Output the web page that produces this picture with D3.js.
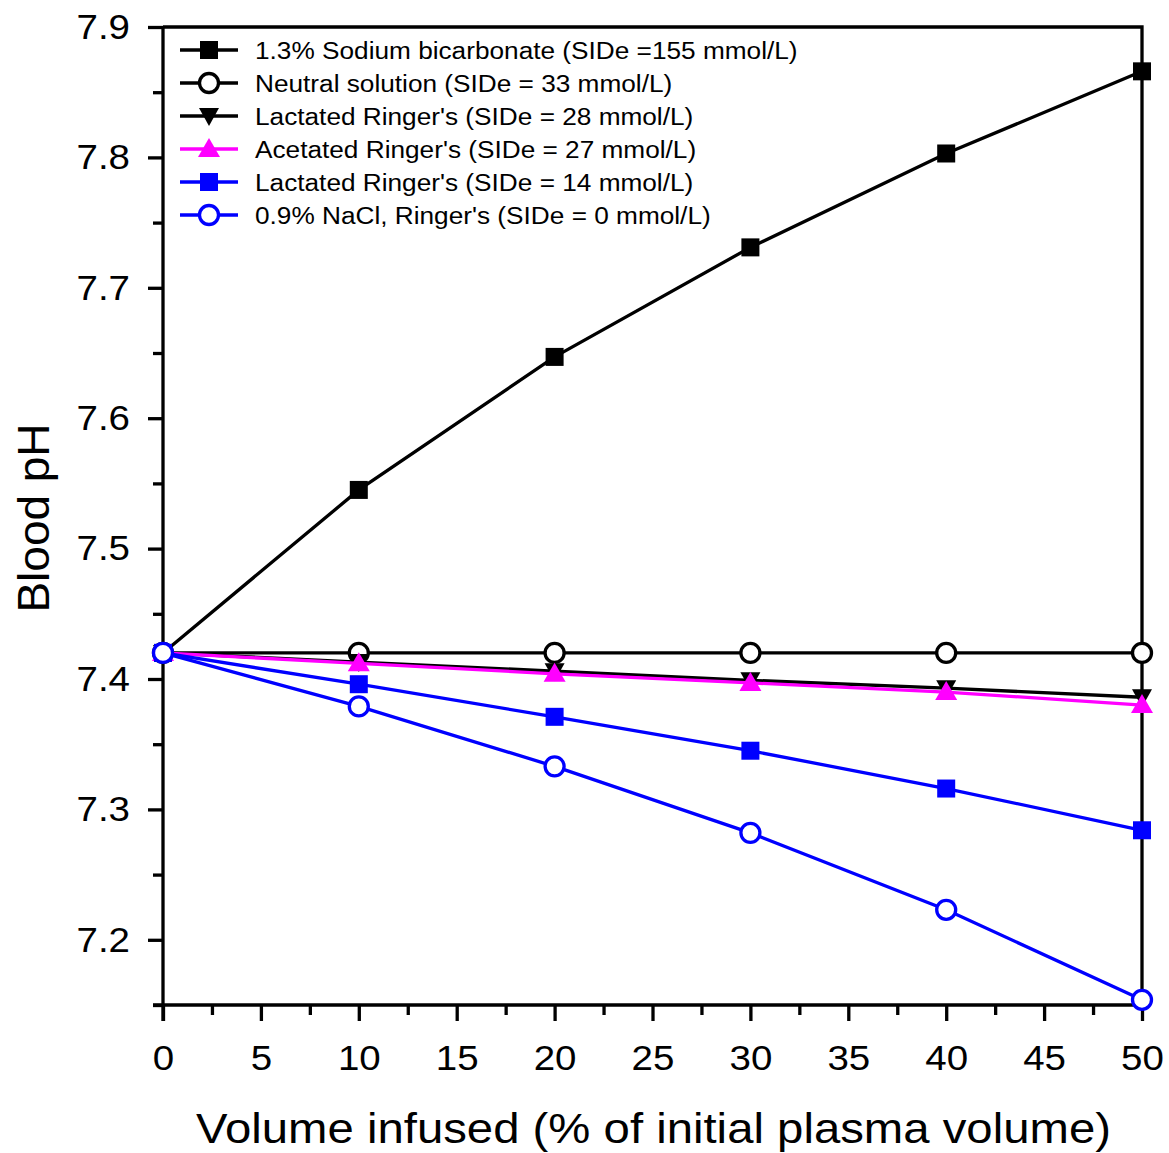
<!DOCTYPE html>
<html><head><meta charset="utf-8">
<script src="https://cdn.jsdelivr.net/npm/d3@7"></script>
<style>html,body{margin:0;padding:0;background:#fff;}svg{display:block;font-family:"Liberation Sans",Arial,sans-serif;}</style>
</head><body>
<svg id="chart" width="1169" height="1153"></svg>
<script>
const volumes = [0, 10, 20, 30, 40, 50];
const seriesNames = [
  "1.3% Sodium bicarbonate (SIDe =155 mmol/L)",
  "Neutral solution (SIDe = 33 mmol/L)",
  "Lactated Ringer's (SIDe = 28 mmol/L)",
  "Acetated Ringer's (SIDe = 27 mmol/L)",
  "Lactated Ringer's (SIDe = 14 mmol/L)",
  "0.9% NaCl, Ringer's (SIDe = 0 mmol/L)"
];
const bicarbonate155 = [7.42, 7.545, 7.647, 7.731, 7.803, 7.866];
const neutral33 = [7.42, 7.42, 7.42, 7.42, 7.42, 7.42];
const lactated28 = [7.42, 7.413, 7.406, 7.399, 7.393, 7.386];
const acetated27 = [7.42, 7.412, 7.404, 7.397, 7.390, 7.380];
const lactated14 = [7.42, 7.396, 7.371, 7.345, 7.316, 7.284];
const saline0 = [7.42, 7.379, 7.333, 7.282, 7.223, 7.154];
const xTicks = [0, 5, 10, 15, 20, 25, 30, 35, 40, 45, 50];
const yTicks = [7.2, 7.3, 7.4, 7.5, 7.6, 7.7, 7.8, 7.9];
const xLabel = "Volume infused (% of initial plasma volume)";
const yLabel = "Blood pH";

const seriesValues = [bicarbonate155, neutral33, lactated28, acetated27, lactated14, saline0];
const styles = [
  {color: "#000", marker: "square", fill: "#000"},
  {color: "#000", marker: "circle", fill: "#fff"},
  {color: "#000", marker: "tridown", fill: "#000"},
  {color: "#ff00ff", marker: "triup", fill: "#ff00ff"},
  {color: "#0000ff", marker: "square", fill: "#0000ff"},
  {color: "#0000ff", marker: "circle", fill: "#fff"}
];

const svg = d3.select("#chart");
const L = 163, R = 1142, T = 27, B = 1005;
const x = d3.scaleLinear().domain([0, 50]).range([L, R]);
const y = d3.scaleLinear().domain([7.15, 7.9]).range([B, T]);
const SW = 3.3;

function stretch(sel, f) {
  sel.each(function () {
    const w = this.getComputedTextLength();
    d3.select(this).attr("textLength", w * f).attr("lengthAdjust", "spacingAndGlyphs");
  });
}

// frame top & right
svg.append("path").attr("d", `M${L},${T}H${R}V${B}`).attr("fill", "none").attr("stroke", "#000").attr("stroke-width", SW);

// y axis
const yMinor = d3.range(7.15, 7.9, 0.1).map(v => +v.toFixed(2));
const yAx = svg.append("g").attr("transform", `translate(${L},0)`);
yAx.call(d3.axisLeft(y).tickValues(yTicks).tickSize(15).tickPadding(18).tickFormat(d3.format(".1f")));
yAx.append("g").call(d3.axisLeft(y).tickValues(yMinor).tickSize(10).tickFormat(""));
yAx.selectAll("path.domain").remove();
yAx.append("line").attr("x1", 0).attr("x2", 0).attr("y1", T).attr("y2", B + 16).attr("stroke", "#000").attr("stroke-width", SW);

// x axis
const xMinor = d3.range(2.5, 50, 5);
const xAx = svg.append("g").attr("transform", `translate(0,${B})`);
xAx.call(d3.axisBottom(x).tickValues(xTicks).tickSize(16).tickPadding(24));
xAx.append("g").call(d3.axisBottom(x).tickValues(xMinor).tickSize(10).tickFormat(""));
xAx.selectAll("path.domain").remove();
xAx.append("line").attr("x1", L - 10).attr("x2", R).attr("y1", 0).attr("y2", 0).attr("stroke", "#000").attr("stroke-width", SW);

svg.selectAll(".tick line").attr("stroke", "#000").attr("stroke-width", SW);
svg.selectAll(".tick text").attr("fill", "#000").style("font-size", "35px").style("font-family", "'Liberation Sans', Arial, sans-serif");
stretch(svg.selectAll(".tick text"), 1.1);

// labels
const xl = svg.append("text").attr("x", (197 + 1110) / 2).attr("y", 1143).attr("text-anchor", "middle")
  .style("font-size", "43px").text(xLabel);
stretch(xl, 1.1);
const yl = svg.append("text").attr("transform", `translate(49,518) rotate(-90)`).attr("text-anchor", "middle")
  .style("font-size", "44px").text(yLabel);
stretch(yl, 1.045);

function drawMarker(g, type, cx, cy, st) {
  if (type === "square") {
    g.append("rect").attr("x", cx - 9).attr("y", cy - 9).attr("width", 18).attr("height", 18).attr("fill", st.fill);
  } else if (type === "circle") {
    g.append("circle").attr("cx", cx).attr("cy", cy).attr("r", 9.5).attr("fill", st.fill).attr("stroke", st.color).attr("stroke-width", SW);
  } else if (type === "tridown") {
    g.append("path").attr("d", `M${cx - 10},${cy - 8}L${cx + 10},${cy - 8}L${cx},${cy + 10}Z`).attr("fill", st.fill);
  } else if (type === "triup") {
    g.append("path").attr("d", `M${cx - 11},${cy + 8}L${cx + 11},${cy + 8}L${cx},${cy - 11}Z`).attr("fill", st.fill);
  }
}

const line = d3.line().x((d, i) => x(volumes[i])).y(d => y(d));
seriesValues.forEach((vals, si) => {
  const st = styles[si];
  const g = svg.append("g");
  g.append("path").datum(vals).attr("d", line).attr("fill", "none").attr("stroke", st.color).attr("stroke-width", SW);
  vals.forEach((v, i) => drawMarker(g, st.marker, x(volumes[i]), y(v), st));
});

// legend
const lg = svg.append("g");
seriesNames.forEach((name, i) => {
  const st = styles[i];
  const cy = 50 + i * 33;
  lg.append("line").attr("x1", 180).attr("x2", 238).attr("y1", cy).attr("y2", cy).attr("stroke", st.color).attr("stroke-width", SW);
  drawMarker(lg, st.marker, 209, cy, st);
  const t = lg.append("text").attr("x", 255).attr("y", cy + 8.5).style("font-size", "23.5px").attr("fill", "#000").text(name);
  stretch(t, 1.115);
});
</script>
</body></html>
